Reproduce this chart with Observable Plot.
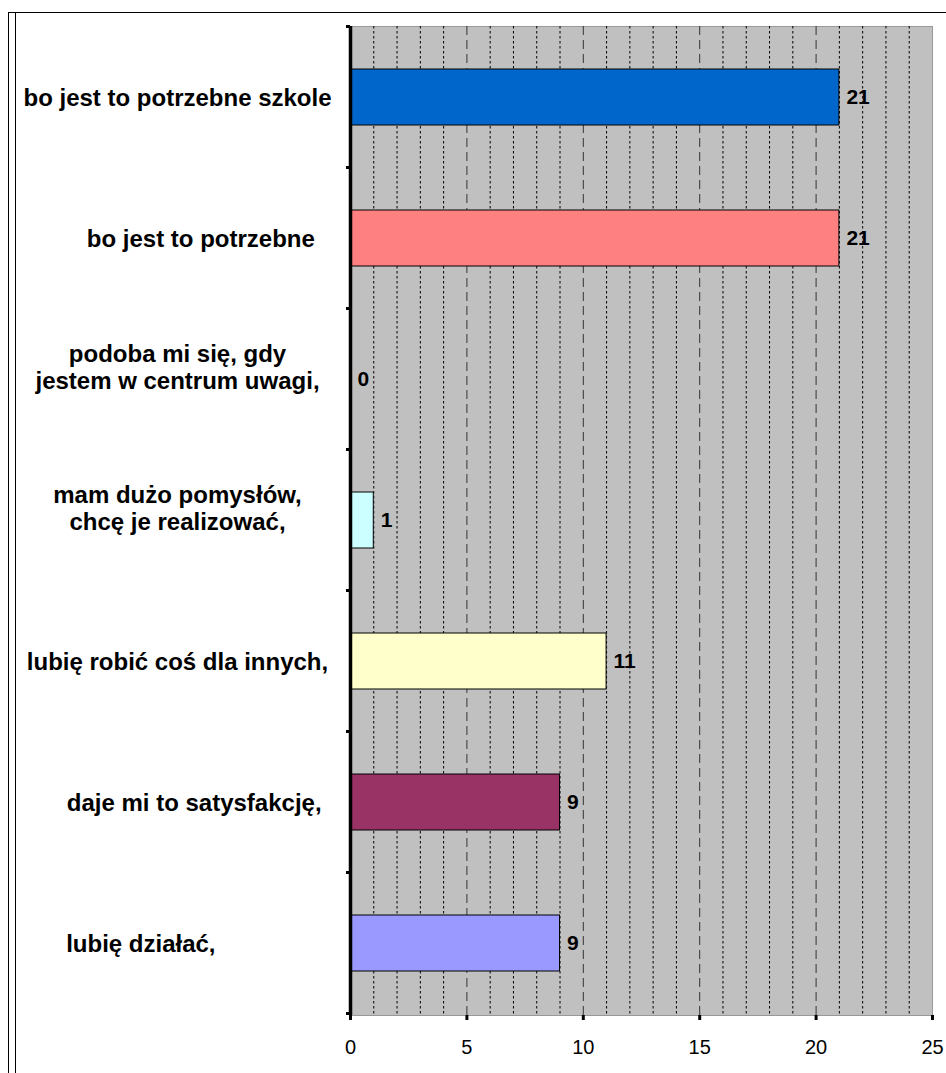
<!DOCTYPE html>
<html>
<head>
<meta charset="utf-8">
<script src="https://cdn.jsdelivr.net/npm/d3@7"></script>
<script src="https://cdn.jsdelivr.net/npm/@observablehq/plot@0.6"></script>
<style>
  html, body { margin: 0; padding: 0; background: #fff; }
  #wrap { position: relative; width: 946px; height: 1073px; overflow: hidden; font-family: "Liberation Sans", Arial, sans-serif; }
  #wrap svg { position: absolute; left: 0; top: 0; }
  .ln { position: absolute; background: #000; }
</style>
</head>
<body>
<div id="wrap">
  <div class="ln" style="left:8px; top:12px; width:938px; height:1px;"></div>
  <div class="ln" style="left:8px; top:12px; width:1px; height:1061px;"></div>
  <div class="ln" style="left:15px; top:12px; width:1px; height:1061px;"></div>
</div>
<script>
const NB = "\u00A0";
const categories = [
  "bo jest to potrzebne szkole",
  "bo jest to potrzebne",
  "podoba mi się, gdy jestem w centrum uwagi,",
  "mam dużo pomysłów, chcę je realizować,",
  "lubię robić coś dla innych,",
  "daje mi to satysfakcję,",
  "lubię działać,"
];
// tick labels as they appear (line breaks and padding spaces of the original labels)
const categoryLabels = [
  "bo jest to potrzebne szkole",
  NB.repeat(7) + "bo jest to potrzebne",
  "podoba mi się, gdy\njestem w centrum uwagi,",
  "mam dużo pomysłów,\nchcę je realizować,",
  "lubię robić coś dla innych,",
  NB.repeat(5) + "daje mi to satysfakcję,",
  "lubię działać," + NB.repeat(11)
];
const values = [21, 21, 0, 1, 11, 9, 9];
const colors = ["#0066CC", "#FF8080", "#660066", "#CCFFFF", "#FFFFCC", "#993366", "#9999FF"];
const xTicks = [0, 5, 10, 15, 20, 25];
const minorTicks = d3.range(1, 25).filter(d => d % 5 !== 0);
const majorTicks = [5, 10, 15, 20];

const data = categories.map((c, i) => ({category: c, label: categoryLabels[i], value: values[i], color: colors[i]}));
const singleLine = data.filter(d => !d.label.includes("\n"));
const multiLine = data.filter(d => d.label.includes("\n"));

const labelStyle = {y: "category", frameAnchor: "left", dx: -173, text: "label", textAnchor: "middle", fontSize: 24, fontWeight: "bold", lineHeight: 1.125, fill: "#000"};

const plot = Plot.plot({
  width: 946,
  height: 1073,
  marginLeft: 350,
  marginRight: 14,
  marginTop: 26,
  marginBottom: 58,
  style: {fontFamily: "Liberation Sans, Arial, sans-serif", background: "transparent", overflow: "visible"},
  x: {domain: [0, 25], axis: null},
  y: {domain: categories, paddingInner: 0.6, paddingOuter: 0.3, axis: null},
  marks: [
    Plot.frame({fill: "#C0C0C0", stroke: "#999999", strokeWidth: 1}),
    Plot.ruleX(minorTicks, {stroke: "#000", strokeWidth: 1, strokeDasharray: "2.5,2.5"}),
    Plot.ruleX(majorTicks, {stroke: "#333", strokeWidth: 1, strokeDasharray: "9,5"}),
    Plot.barX(data.filter(d => d.value > 0), {y: "category", x: "value", fill: "color", stroke: "#000", strokeWidth: 1}),
    Plot.text(data, {y: "category", x: "value", text: d => String(d.value), textAnchor: "start", dx: 7, fontSize: 21, fontWeight: "bold", fill: "#000"}),
    Plot.text(singleLine, labelStyle),
    Plot.text(multiLine, {...labelStyle, dy: -13}),
    Plot.axisX(xTicks, {label: null, tickSize: 5, tickPadding: 19, strokeWidth: 3, fontSize: 20, fill: "#000", stroke: "#000"}),
    Plot.ruleX([0], {stroke: "#000", strokeWidth: 3.5}),
    Plot.ruleY([0], {stroke: "#000", strokeWidth: 3.5, frameAnchor: "bottom"})
  ]
});

document.getElementById("wrap").appendChild(plot);

// Category boundary tick marks on the y axis, derived from the band scale
const ys = plot.scale("y");
const xs = plot.scale("x");
const svg = d3.select(plot);
const x0 = xs.apply(0);
const gap = (ys.step - ys.bandwidth) / 2;
const bounds = categories.map(c => ys.apply(c) - gap);
bounds.push(ys.apply(categories[categories.length - 1]) + ys.bandwidth + gap);
svg.append("g").selectAll("line").data(bounds).join("line")
  .attr("x1", x0 - 4).attr("x2", x0)
  .attr("y1", d => d).attr("y2", d => d)
  .attr("stroke", "#000").attr("stroke-width", 3);
</script>
</body>
</html>
